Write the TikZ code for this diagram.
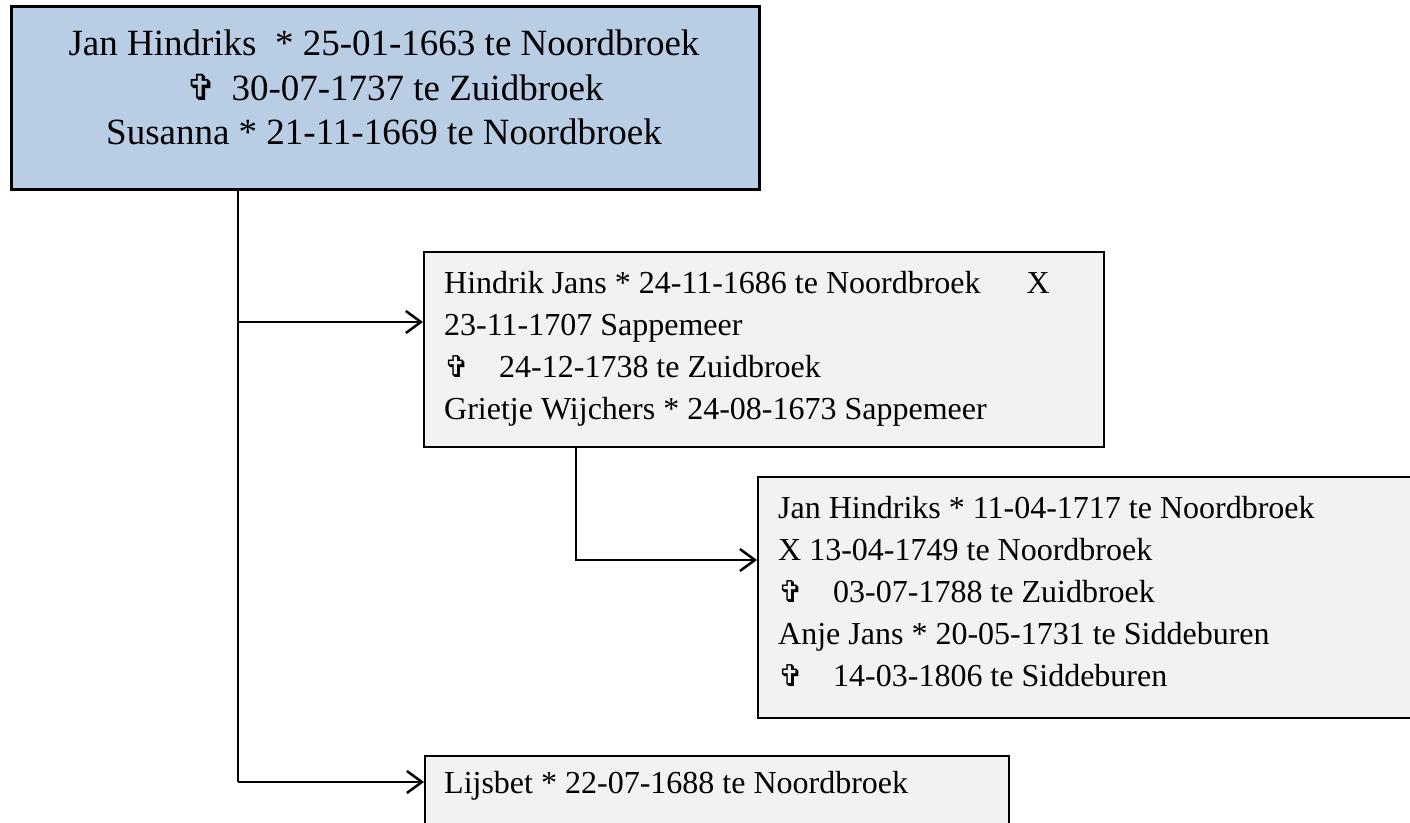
\documentclass[tikz,border=0pt]{standalone}
\usepackage{fontspec}
\setmainfont{Liberation Serif}
\newfontfamily\symfont{DejaVu Sans}
\usetikzlibrary{arrows.meta}
\definecolor{boxblue}{HTML}{B9CDE5}
\definecolor{boxgray}{HTML}{F2F2F2}
\newcommand{\bigcross}{\makebox[45pt][l]{\symfont\fontsize{36}{36}\selectfont ✞}}
\newcommand{\smcross}{\makebox[55pt][l]{\symfont\fontsize{30}{30}\selectfont ✞}}
\begin{document}
\begin{tikzpicture}[x=1pt,y=-1pt,
  topbox/.style={draw=black, line width=2.5pt, fill=boxblue, anchor=north west, inner sep=0pt},
  childbox/.style={draw=black, line width=2pt, fill=boxgray, anchor=north west, inner sep=0pt},
  toptext/.style={font=\fontsize{37}{44.5}\selectfont, align=center, anchor=north, inner sep=0pt},
  childtext/.style={font=\fontsize{32}{42}\selectfont, align=left, anchor=north west, inner sep=0pt},
  conn/.style={line width=2.5pt},
  arr/.style={conn, -{Straight Barb[length=15pt,width=22pt,line width=2.5pt]}}]
\useasboundingbox (0,0) rectangle (1410,822);

% boxes
\node[topbox, minimum width=748pt, minimum height=183pt] (b1) at (10,5) {};
\node[childbox, minimum width=680pt, minimum height=195pt] (b2) at (423,251) {};
\node[childbox, minimum width=670pt, minimum height=241pt] (b3) at (757,476) {};
\node[childbox, minimum width=584pt, minimum height=110pt] (b4) at (424,755) {};

% texts
\node[toptext] (t1) at (384,30) {Jan Hindriks\ \ * 25-01-1663 te Noordbroek\\
\hspace{22pt}\bigcross30-07-1737 te Zuidbroek\\
Susanna * 21-11-1669 te Noordbroek};
\node[childtext] (t2) at (444,271) {Hindrik Jans * 24-11-1686 te Noordbroek\hspace{46pt}X\\
23-11-1707 Sappemeer\\
\smcross24-12-1738 te Zuidbroek\\
Grietje Wijchers * 24-08-1673 Sappemeer};
\node[childtext] (t3) at (778,496) {Jan Hindriks * 11-04-1717 te Noordbroek\\
X 13-04-1749 te Noordbroek\\
\smcross03-07-1788 te Zuidbroek\\
Anje Jans * 20-05-1731 te Siddeburen\\
\smcross14-03-1806 te Siddeburen};
\node[childtext] (t4) at (444,771) {Lijsbet * 22-07-1688 te Noordbroek};

% connectors
\coordinate (j1) at ([xshift=228pt]b1.south west);
\coordinate (e2) at ([yshift=-71pt]b2.north west);
\coordinate (e4) at ([yshift=-27pt]b4.north west);
\coordinate (j2) at ([xshift=153pt]b2.south west);
\coordinate (e3) at ([yshift=-84pt]b3.north west);
\draw[conn] (j1) -- (j1 |- e4);
\draw[arr] (j1 |- e2) -- (e2);
\draw[arr] (j1 |- e4) -- (e4);
\draw[arr] (j2) |- (e3);
\end{tikzpicture}
\end{document}
